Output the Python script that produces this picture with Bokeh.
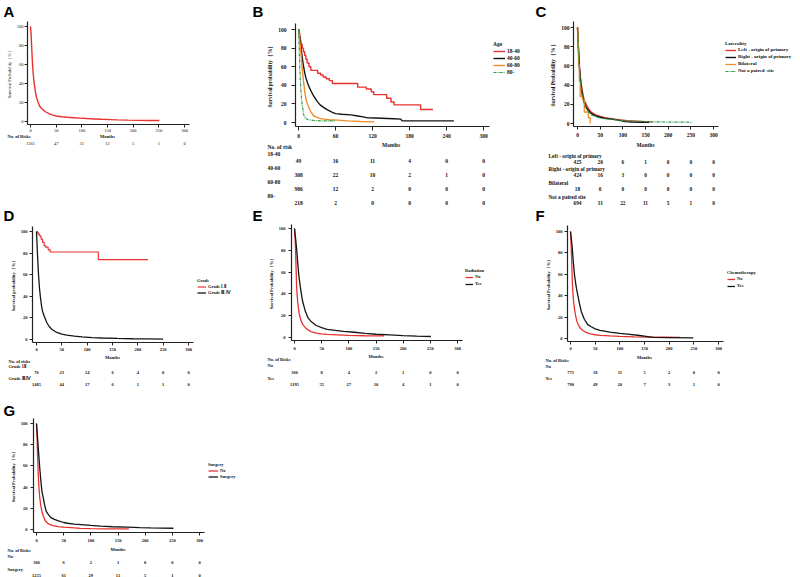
from bokeh.plotting import figure
from bokeh.models import Range1d, Legend, LegendItem, FixedTicker
from bokeh.layouts import column, row
from bokeh.core.properties import value
from bokeh.embed import file_html
from bokeh.resources import INLINE

SERIF = "Liberation Serif"
SANS = "Liberation Sans"
RED = "#e8322e"
BLACK = "#151515"
ORANGE = "#f28c28"
GREEN = "#2e9a44"
INK = "#111111"

# ---------------- data ----------------
ticks50 = [0, 50, 100, 150, 200, 250, 300]
ticks60 = [0, 60, 120, 180, 240, 300]
yticks = [0, 20, 40, 60, 80, 100]

# A overall
a_t = [0, 1, 2, 3, 4, 5, 6, 8, 10, 12, 15, 18, 21, 25, 30, 36, 42, 50, 60, 72, 84, 96, 110, 125, 140, 155, 170, 190, 210, 230, 251]
a_s = [100, 93, 82, 70, 60, 52, 46, 37, 30, 25, 20, 16, 14, 12, 10, 8.2, 7, 5.8, 5, 4.4, 4, 3.6, 3.1, 2.7, 2.3, 2.0, 1.7, 1.4, 1.2, 1.1, 1.0]
a_risk = [1561, 47, 31, 12, 5, 1, 0]

# B age
b_groups = ["18-40", "40-60", "60-80", "80-"]
b1_t = [0, 1, 2, 3, 4, 6, 8, 10, 12, 14, 17, 20, 31, 36, 40, 45, 50, 55, 96, 110, 118, 122, 143, 150, 155, 198, 218]
b1_s = [100, 96, 92, 88, 84, 80, 76, 72, 68, 64, 60, 56, 53, 51, 49, 47, 45, 42, 38, 36, 33, 30, 26, 22, 19, 14, 14]
b2_t = [0, 2, 4, 6, 8, 10, 12, 15, 18, 21, 25, 30, 35, 40, 47, 55, 60, 70, 85, 96, 105, 112, 125, 144, 155, 166, 168, 200, 252]
b2_s = [100, 92, 82, 70, 61, 54, 48, 42, 37, 33, 28, 23, 19, 16.5, 13.5, 11, 9.6, 8.8, 8.2, 7, 6, 5, 4.8, 4.3, 4, 3.6, 1.8, 1.7, 1.7]
b3_t = [0, 1, 2, 3, 4, 5, 6, 8, 10, 12, 15, 18, 21, 25, 30, 36, 42, 50, 63, 80, 101, 123]
b3_s = [100, 95, 88, 82, 74, 66, 58, 45, 34, 25, 19, 14, 10.5, 7, 5.5, 4.2, 3.6, 3, 2.5, 1.8, 1.1, 0.7]
b4_t = [0, 1, 2, 3, 4, 5, 6, 7, 8, 10, 12, 15, 20, 25, 36, 60]
b4_s = [100, 82, 60, 45, 33, 25, 19, 15, 9, 6, 4.5, 3.2, 2.5, 2.2, 1.8, 1.8]
b_risk = [[49, 16, 11, 4, 0, 0],
          [308, 22, 10, 2, 1, 0],
          [986, 12, 2, 0, 0, 0],
          [218, 2, 0, 0, 0, 0]]

# C laterality
c_groups = ["Left - origin of primary", "Right - origin of primary", "Bilateral", "Not a paired  site"]
c1_t = [0, 2, 4, 6, 8, 10, 13, 16, 20, 25, 30, 40, 50, 60, 75, 90, 110, 130, 150, 165]
c1_s = [100, 80, 62, 50, 42, 35, 28, 23, 19, 15, 12, 9, 7.5, 6, 5, 4, 3, 2.5, 2, 1.7]
c2_t = [0, 2, 4, 6, 8, 10, 13, 16, 20, 25, 30, 40, 50, 60, 75, 90, 105, 120, 140, 158]
c2_s = [100, 78, 60, 47, 39, 32, 25, 20, 16, 13, 10.5, 8, 6.5, 5.5, 4.5, 3.5, 2, 1.5, 1.3, 1.3]
c3_t = [0, 1, 2, 4, 6, 11, 15, 24, 28]
c3_s = [100, 83, 61, 44, 28, 25, 12, 6, 0]
c4_t = [0, 2, 4, 6, 8, 10, 13, 16, 20, 25, 30, 40, 50, 60, 75, 90, 110, 130, 160, 200, 254]
c4_s = [100, 76, 58, 45, 37, 30, 24, 19, 15, 11.5, 9, 7, 5.5, 5, 4.3, 3.5, 2.8, 2.3, 1.8, 1.5, 1.3]
c_risk = [[425, 20, 6, 1, 0, 0, 0],
          [424, 16, 3, 0, 0, 0, 0],
          [18, 0, 0, 0, 0, 0, 0],
          [694, 31, 22, 11, 5, 1, 0]]

# D grade
d_groups = ["Grade \u2160-\u2161", "Grade \u2162-\u2163"]
d1_t = [0, 2, 4, 6, 9, 12, 15, 18, 23, 27, 122, 220]
d1_s = [100, 98.7, 97.4, 96, 93, 90, 87, 85.5, 83, 81, 74, 74]
d2_t = [0, 2, 4, 6, 8, 10, 12, 15, 20, 25, 30, 40, 50, 60, 75, 90, 110, 130, 160, 190, 220, 250]
d2_s = [100, 78, 60, 47, 38, 31, 26, 22, 16, 12, 9.5, 6.5, 5, 4, 3.2, 2.5, 1.8, 1.4, 1, 0.7, 0.5, 0.3]
d_risk = [[76, 23, 14, 6, 4, 0, 0],
          [1485, 44, 17, 6, 1, 1, 0]]

# E radiation
e_groups = ["No", "Yes"]
e1_t = [0, 1, 2, 3, 4, 5, 6, 8, 10, 12, 15, 20, 25, 30, 40, 50, 60, 80, 100, 130, 165]
e1_s = [100, 92, 80, 62, 46, 38, 32, 24, 19, 15.5, 12, 9, 7, 5.5, 4, 3.3, 2.8, 2.4, 2, 1.6, 1.4]
e2_t = [0, 2, 4, 6, 8, 10, 12, 15, 20, 25, 30, 40, 50, 60, 75, 90, 110, 130, 150, 175, 200, 225, 251]
e2_s = [100, 91, 81, 68, 57, 49, 42, 33, 24, 18, 15, 11, 9, 7.5, 6.5, 5.6, 4.8, 3.8, 3, 2.4, 1.8, 1.3, 0.9]
e_risk = [[366, 8, 4, 2, 1, 0, 0],
          [1195, 55, 27, 10, 4, 1, 0]]

# F chemotherapy
f_groups = ["No", "Yes"]
f1_t = [0, 1, 2, 3, 4, 5, 6, 8, 10, 13, 16, 20, 25, 30, 40, 50, 60, 80, 100, 130, 160, 190, 222]
f1_s = [100, 90, 78, 64, 50, 42, 36, 28, 22, 16, 12.5, 9.5, 7.5, 6, 4.4, 3.5, 3, 2.4, 2, 1.6, 1.3, 1.2, 1.1]
f2_t = [0, 2, 4, 6, 8, 10, 12, 15, 18, 22, 28, 35, 42, 50, 60, 80, 100, 120, 140, 160, 168, 200, 249]
f2_s = [100, 92, 82, 70, 60, 53, 47, 40, 33, 25, 18, 13, 11, 9, 7.6, 6, 4.8, 3.8, 2.8, 1.6, 1, 0.8, 0.6]
f_risk = [[771, 18, 11, 5, 2, 0, 0],
          [790, 49, 20, 7, 3, 1, 0]]

# G surgery
g_groups = ["No", "Surgery"]
g1_t = [0, 1, 2, 3, 4, 5, 6, 8, 10, 13, 16, 20, 25, 30, 40, 50, 70, 80, 100, 130, 170]
g1_s = [100, 88, 70, 55, 44, 36, 30, 22, 17, 12, 8.5, 6, 4.5, 3.7, 2.8, 2.2, 1.6, 1.1, 0.8, 0.6, 0.5]
g2_t = [0, 2, 4, 6, 8, 10, 12, 15, 18, 22, 26, 32, 39, 50, 57, 70, 88, 100, 118, 140, 167, 190, 210, 252]
g2_s = [100, 86, 72, 58, 46, 36, 31, 23, 17, 14, 11.5, 9.8, 8.4, 6.6, 5.9, 5, 4.3, 3.8, 3.1, 2.6, 2.2, 1.8, 1.5, 1.2]
g_risk = [[306, 6, 2, 1, 0, 0, 0],
          [1255, 61, 29, 11, 5, 1, 0]]


# ---------------- helpers ----------------
def make_panel(ox, oy, W, H, FL, FT, FB, px0, px300, py100, py0):
    """One figure per panel; its frame fills the whole figure, the axes are pinned
    with fixed_location so the risk table and panel letter can live in the frame."""
    kx = (px300 - px0) / 300.0
    ky = (py0 - py100) / 100.0

    def X(ax):
        return (ax - px0) / kx

    def Y(ay):
        return (py0 - ay) / ky

    p = figure(width=W, height=H, x_range=Range1d(X(ox), X(ox + W)), y_range=Range1d(Y(oy + H), Y(oy)),
               min_border=0, title=None, output_backend="svg", toolbar_location=None, tools="")
    p.outline_line_color = None
    p.grid.visible = False
    p.background_fill_color = "white"
    p.border_fill_color = "white"
    return dict(p=p, X=X, Y=Y, FL=FL, FT=FT, FB=FB, ox=ox, oy=oy, W=W, H=H)


def ptext(P, xs, ys_px, texts, size, bold=True, align="left", font=SERIF, baseline="middle", color=INK):
    P["p"].text(x=xs, y=[P["Y"](v) for v in ys_px], text=texts, text_font=value(font),
                text_font_size=value(f"{size}px"), text_font_style="bold" if bold else "normal",
                text_align=align, text_baseline=baseline, text_color=color)


def letter(P, text, lx, ly):
    ptext(P, [P["X"](lx)], [ly], [text], 15, True, "left", SANS, "top", "black")


def style_axes(P, xticks, size, bold, ylabel, tick_out=3, xstand=2, ystand=2):
    p = P["p"]
    X, Y = P["X"], P["Y"]
    xa = p.xaxis[0]
    ya = p.yaxis[0]
    xa.ticker = FixedTicker(ticks=xticks)
    ya.ticker = FixedTicker(ticks=yticks)
    xa.fixed_location = Y(P["FB"])
    ya.fixed_location = X(P["FL"])
    xa.bounds = (X(P["FL"]), 310)
    ya.bounds = (Y(P["FB"]), Y(P["FT"]))
    for a in (xa, ya):
        a.major_label_text_font = SERIF
        a.major_label_text_font_size = f"{size}px"
        a.major_label_text_font_style = "bold" if bold else "normal"
        a.major_label_text_color = INK
        a.minor_tick_line_color = None
        a.major_tick_out = tick_out
        a.major_tick_in = 0
        a.axis_line_width = 1.2
        a.axis_line_color = "#222222"
        a.major_tick_line_color = "#222222"
    xa.major_label_standoff = xstand
    ya.major_label_standoff = ystand
    ya.axis_label = ylabel
    ya.axis_label_text_font = SERIF
    ya.axis_label_text_font_size = f"{size}px"
    ya.axis_label_text_font_style = "bold" if bold else "normal"
    ya.axis_label_text_color = INK
    ya.axis_label_standoff = 2


def add_legend(P, title, items, left, title_y, pitch, fs, glyph_w):
    p = P["p"]
    pitch = int(pitch)
    th = fs * 1.15
    n = len(items)
    height = th + n * pitch
    top = title_y - th / 2
    leg = Legend(items=[LegendItem(label=l, renderers=[r]) for l, r in items], title=title,
                 location=(int(round(left - P["ox"])), int(round(P["oy"] + P["H"] - (top + height)))),
                 padding=0, margin=0, spacing=0, label_height=pitch, glyph_height=max(pitch - 1, 1),
                 glyph_width=int(glyph_w), label_standoff=2, title_standoff=0,
                 border_line_color=None, background_fill_alpha=0,
                 label_text_font=SERIF, label_text_font_size=f"{fs}px", label_text_font_style="bold",
                 title_text_font=SERIF, title_text_font_size=f"{fs}px", title_text_font_style="bold",
                 label_text_color=INK, title_text_color=INK)
    p.add_layout(leg)


def risk_table(P, ticks, names, risks, label_x, name_y0, val_y0, step, size, bold=True):
    for i, (name, vals) in enumerate(zip(names, risks)):
        ptext(P, [P["X"](label_x)], [name_y0 + step * i], [name], size, bold)
        ptext(P, ticks, [val_y0 + step * i] * len(vals), [str(v) for v in vals], size, bold, align="center")


# ---------------- Panel A ----------------
A = make_panel(0, 0, 252, 207, FL=27, FT=21, FB=124, px0=30, px300=184, py100=26, py0=121)
A["p"].line(a_t, a_s, line_color=RED, line_width=1.4)
style_axes(A, ticks50, 4.5, False, "Survival Probability\uff08%\uff09", tick_out=3, xstand=1, ystand=1)
letter(A, "A", 3, 2)
ptext(A, [150], [136], ["Months"], 4.5, True, align="center")
ptext(A, [A["X"](7)], [136], ["No. of Risks"], 4.5, True)
ptext(A, ticks50, [143] * len(a_risk), [str(v) for v in a_risk], 4.5, False, align="center")

# ---------------- Panel B ----------------
B = make_panel(252, 0, 278, 207, FL=295, FT=23, FB=126, px0=298, px300=483, py100=29, py0=122)
pB = B["p"]
rb1 = pB.step(b1_t, b1_s, mode="after", line_color=RED, line_width=1.4)
rb2 = pB.line(b2_t, b2_s, line_color=BLACK, line_width=1.4)
rb3 = pB.line(b3_t, b3_s, line_color=ORANGE, line_width=1.4)
rb4 = pB.line(b4_t, b4_s, line_color=GREEN, line_width=1.2, line_dash="3 1 1 1")
style_axes(B, ticks60, 5.5, True, "Survival probability\uff08%\uff09", tick_out=4, xstand=3, ystand=5)
add_legend(B, "Age", list(zip(b_groups, [rb1, rb2, rb3, rb4])), 493, 44, 7, 5.5, 12)
letter(B, "B", 252, 2)
ptext(B, [150], [144], ["Months"], 5.5, True, align="center")
ptext(B, [B["X"](267)], [146], ["No. of risk"], 5.5, True)
risk_table(B, ticks60, b_groups, b_risk, 267, 153, 160.5, 14, 5.5)

# ---------------- Panel C ----------------
C = make_panel(530, 0, 270, 207, FL=573, FT=21, FB=126, px0=577, px300=713, py100=27, py0=123)
pC = C["p"]
rc1 = pC.line(c1_t, c1_s, line_color=RED, line_width=1.4)
rc2 = pC.line(c2_t, c2_s, line_color=BLACK, line_width=1.4)
rc3 = pC.step(c3_t, c3_s, mode="after", line_color=ORANGE, line_width=1.3)
rc4 = pC.line(c4_t, c4_s, line_color=GREEN, line_width=1.2, line_dash="3 1 1 1")
style_axes(C, ticks50, 5.5, True, "Survival Probability\uff08%\uff09", tick_out=3, xstand=3, ystand=1)
add_legend(C, "Laterality", list(zip(c_groups, [rc1, rc2, rc3, rc4])), 725, 43, 7, 5, 11)
letter(C, "C", 535, 2)
ptext(C, [150], [144], ["Months"], 5.5, True, align="center")
risk_table(C, ticks50, c_groups, c_risk, 548, 155, 161, 13.8, 5.3)

# ---------------- Panel D ----------------
D = make_panel(0, 207, 252, 193, FL=32, FT=226, FB=342, px0=36, px300=188, py100=231, py0=339)
pD = D["p"]
rd1 = pD.step(d1_t, d1_s, mode="after", line_color=RED, line_width=1.2)
rd2 = pD.line(d2_t, d2_s, line_color=BLACK, line_width=1.3)
style_axes(D, ticks50, 4.5, True, "Survival probability\uff08%\uff09", tick_out=3, xstand=2, ystand=2)
add_legend(D, "Grade", list(zip(d_groups, [rd1, rd2])), 197, 280, 6, 4.5, 9)
letter(D, "D", 3, 206)
ptext(D, [150], [357], ["Months"], 4.5, True, align="center")
ptext(D, [D["X"](8)], [361], ["No. of risks"], 4.5, True)
risk_table(D, ticks50, d_groups, d_risk, 8, 366, 372, 12, 4.5)

# ---------------- Panel E ----------------
E = make_panel(252, 207, 278, 193, FL=291, FT=224, FB=340, px0=294, px300=457, py100=228, py0=337)
pE = E["p"]
re1 = pE.line(e1_t, e1_s, line_color=RED, line_width=1.3)
re2 = pE.line(e2_t, e2_s, line_color=BLACK, line_width=1.3)
style_axes(E, ticks50, 4.5, True, "Survival Probability\uff08%\uff09", tick_out=3, xstand=3, ystand=3)
add_legend(E, "Radiation", list(zip(e_groups, [re1, re2])), 465, 270, 7, 4.5, 8)
letter(E, "E", 252, 206)
ptext(E, [150], [356], ["Months"], 4.5, True, align="center")
ptext(E, [E["X"](267)], [359], ["No. of Risks"], 4.5, True)
risk_table(E, ticks50, e_groups, e_risk, 267, 365, 371.5, 12.5, 4.5)

# ---------------- Panel F ----------------
F = make_panel(530, 207, 270, 193, FL=567, FT=225, FB=341, px0=570, px300=718, py100=231, py0=338)
pF = F["p"]
rf1 = pF.line(f1_t, f1_s, line_color=RED, line_width=1.3)
rf2 = pF.line(f2_t, f2_s, line_color=BLACK, line_width=1.3)
style_axes(F, ticks50, 4.5, True, "Survival Probability\uff08%\uff09", tick_out=3, xstand=2, ystand=2)
add_legend(F, "Chemotherapy", list(zip(f_groups, [rf1, rf2])), 727, 272, 7, 4.5, 8)
letter(F, "F", 535, 206)
ptext(F, [150], [357], ["Months"], 4.5, True, align="center")
ptext(F, [F["X"](545)], [360], ["No. of Risks"], 4.5, True)
risk_table(F, ticks50, f_groups, f_risk, 545, 366, 372, 12, 4.5)

# ---------------- Panel G ----------------
G = make_panel(0, 400, 300, 177, FL=33, FT=418, FB=532, px0=36, px300=199, py100=423, py0=529)
pG = G["p"]
rg1 = pG.line(g1_t, g1_s, line_color=RED, line_width=1.3)
rg2 = pG.line(g2_t, g2_s, line_color=BLACK, line_width=1.3)
style_axes(G, ticks50, 4.5, True, "Survival Probability\uff08%\uff09", tick_out=3, xstand=3, ystand=3)
add_legend(G, "Surgery", list(zip(g_groups, [rg1, rg2])), 208, 464, 6, 4.5, 10)
letter(G, "G", 3, 401)
ptext(G, [150], [549], ["Months"], 4.5, True, align="center")
ptext(G, [G["X"](7)], [550], ["No. of Risks"], 4.5, True)
risk_table(G, ticks50, g_groups, g_risk, 7, 556, 562, 12.5, 4.5)

layout = column(row(A["p"], B["p"], C["p"]),
                row(D["p"], E["p"], F["p"]),
                row(G["p"]))
open("out.html", "w").write(file_html(layout, INLINE))
